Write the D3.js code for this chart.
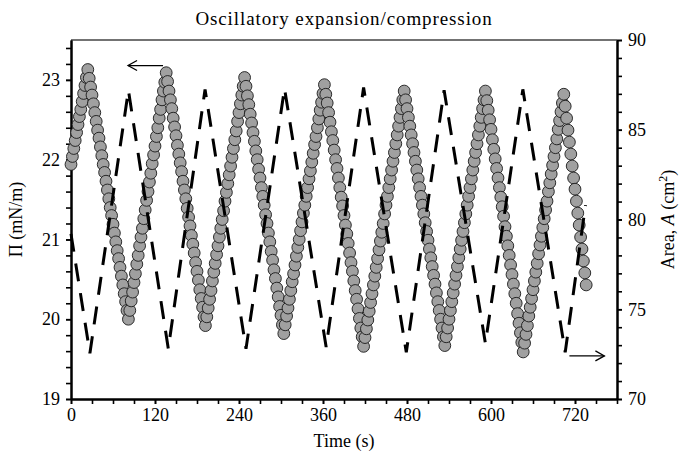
<!DOCTYPE html>
<html>
<head>
<meta charset="utf-8">
<script src="https://cdn.jsdelivr.net/npm/d3@7"></script>
<style>
    body { margin: 0; background: white; }
    text { font-family: 'Liberation Serif', 'Times New Roman', serif; fill: black; }
</style>
</head>
<body>
<script>
// surface pressure, one reading every 2 s from t = 0
const sampleStep = 2
const pressure = [
    21.94, 22.04, 22.14, 22.24, 22.34, 22.44, 22.54, 22.63, 22.73, 22.83, 22.93, 23.03, 23.13,
    23.02, 22.91, 22.81, 22.70, 22.59, 22.48, 22.37, 22.27, 22.16, 22.05, 21.94, 21.84, 21.73, 21.62,
    21.51, 21.40, 21.30, 21.19, 21.08, 20.97, 20.86, 20.76, 20.65, 20.54, 20.43, 20.32, 20.22, 20.11, 20.00,
    20.11, 20.23, 20.34, 20.46, 20.57, 20.69, 20.80, 20.92, 21.03, 21.14, 21.26, 21.37, 21.49, 21.60,
    21.72, 21.83, 21.95, 22.06, 22.17, 22.29, 22.40, 22.52, 22.63, 22.75, 22.86, 22.97, 23.09,
    22.98, 22.86, 22.75, 22.64, 22.52, 22.41, 22.30, 22.18, 22.07, 21.96, 21.85, 21.73, 21.62, 21.51,
    21.39, 21.28, 21.17, 21.05, 20.94, 20.83, 20.71, 20.60, 20.49, 20.37, 20.26, 20.15, 20.03, 19.92,
    20.03, 20.14, 20.25, 20.36, 20.48, 20.59, 20.70, 20.81, 20.92, 21.03, 21.14, 21.25, 21.36, 21.48,
    21.59, 21.70, 21.81, 21.92, 22.03, 22.14, 22.25, 22.36, 22.48, 22.59, 22.70, 22.81, 22.92, 23.03,
    22.92, 22.80, 22.69, 22.57, 22.46, 22.34, 22.23, 22.11, 22.00, 21.88, 21.77, 21.65, 21.54, 21.43,
    21.31, 21.20, 21.08, 20.97, 20.85, 20.74, 20.62, 20.51, 20.39, 20.28, 20.16, 20.05, 19.93, 19.82,
    19.93, 20.04, 20.14, 20.25, 20.36, 20.47, 20.57, 20.68, 20.79, 20.90, 21.00, 21.11, 21.22, 21.33,
    21.43, 21.54, 21.65, 21.76, 21.86, 21.97, 22.08, 22.19, 22.29, 22.40, 22.51, 22.62, 22.72, 22.83, 22.94,
    22.82, 22.71, 22.59, 22.47, 22.35, 22.24, 22.12, 22.00, 21.89, 21.77, 21.65, 21.53, 21.42, 21.30,
    21.18, 21.07, 20.95, 20.83, 20.71, 20.60, 20.48, 20.36, 20.25, 20.13, 20.01, 19.89, 19.78, 19.66,
    19.77, 19.88, 19.99, 20.10, 20.21, 20.32, 20.43, 20.54, 20.65, 20.76, 20.87, 20.98, 21.09, 21.20,
    21.32, 21.43, 21.54, 21.65, 21.76, 21.87, 21.98, 22.09, 22.20, 22.31, 22.42, 22.53, 22.64, 22.75, 22.86,
    22.75, 22.64, 22.53, 22.42, 22.31, 22.20, 22.09, 21.98, 21.87, 21.76, 21.65, 21.54, 21.43, 21.32,
    21.21, 21.10, 20.99, 20.88, 20.77, 20.66, 20.55, 20.44, 20.33, 20.22, 20.11, 20.00, 19.89, 19.78, 19.67,
    19.78, 19.89, 20.00, 20.11, 20.22, 20.33, 20.44, 20.55, 20.66, 20.77, 20.88, 20.99, 21.10, 21.21,
    21.32, 21.43, 21.54, 21.65, 21.76, 21.87, 21.98, 22.09, 22.20, 22.31, 22.42, 22.53, 22.64, 22.75, 22.86,
    22.74, 22.62, 22.50, 22.38, 22.25, 22.13, 22.01, 21.89, 21.77, 21.65, 21.53, 21.41, 21.29, 21.16,
    21.04, 20.92, 20.80, 20.68, 20.56, 20.44, 20.32, 20.20, 20.07, 19.95, 19.83, 19.71, 19.59,
    19.70, 19.81, 19.92, 20.04, 20.15, 20.26, 20.37, 20.48, 20.59, 20.70, 20.82, 20.93, 21.04, 21.15,
    21.26, 21.37, 21.48, 21.60, 21.71, 21.82, 21.93, 22.04, 22.15, 22.26, 22.38, 22.49, 22.60, 22.71, 22.82,
    22.67, 22.52, 22.37, 22.22, 22.07, 21.92, 21.77, 21.63, 21.48, 21.33, 21.18, 21.03, 20.88, 20.73, 20.58, 20.43
]

// trough area, turning points of the barrier motion
const areaTime = [0, 27, 82, 139, 191.5, 250, 305, 364.5, 418, 479, 533, 592, 645.5, 706, 735]
const areaValue = [79.2, 72.55, 87.2, 72.8, 87.25, 72.8, 87.3, 72.9, 87.35, 72.6, 87.2, 73.1, 87.25, 72.6, 80.8]

const timeTicks = [0, 120, 240, 360, 480, 600, 720]
const pressureTicks = [19, 20, 21, 22, 23]
const areaTicks = [70, 75, 80, 85, 90]

const W = 679, H = 456
const margin = { top: 40, right: 62, bottom: 57, left: 71 }
const width = W - margin.left - margin.right
const height = H - margin.top - margin.bottom

const svg = d3.select('body').append('svg')
    .attr('width', W)
    .attr('height', H)

const g = svg.append('g')
    .attr('transform', `translate(${margin.left}, ${margin.top})`)

const x = d3.scaleLinear().domain([0, 780]).range([0, width])
const yP = d3.scaleLinear().domain([19, 23.5]).range([height, 0])
const yA = d3.scaleLinear().domain([70, 90]).range([height, 0])

// top frame line
g.append('line')
    .attr('x1', 0).attr('x2', width)
    .attr('y1', 0).attr('y2', 0)
    .style('stroke', '#444')
    .style('stroke-width', 1.5)

function styleAxis(sel) {
    sel.select('.domain').style('stroke', 'black').style('stroke-width', 2)
    sel.selectAll('.tick line').style('stroke', 'black').style('stroke-width', 1.6)
    sel.selectAll('.tick text')
        .style('font-family', "'Liberation Serif', serif")
        .style('font-size', '18px')
}

const fmt = d3.format('d')

// minor ticks first, then labelled majors on top
g.append('g')
    .attr('transform', `translate(0, ${height})`)
    .call(d3.axisBottom(x).tickValues(d3.range(0, 781, 30)).tickSize(5).tickSizeOuter(0).tickFormat(''))
    .call(styleAxis)
g.append('g')
    .attr('transform', `translate(0, ${height})`)
    .call(d3.axisBottom(x).tickValues(timeTicks).tickFormat(fmt).tickSize(5).tickSizeOuter(0).tickPadding(4))
    .call(styleAxis)

g.append('g')
    .call(d3.axisLeft(yP).tickValues(d3.range(0, 23).map(i => 19 + i * 0.2)).tickSize(5).tickSizeOuter(0).tickFormat(''))
    .call(styleAxis)
g.append('g')
    .call(d3.axisLeft(yP).tickValues(pressureTicks).tickFormat(fmt).tickSize(5).tickSizeOuter(0).tickPadding(6))
    .call(styleAxis)

g.append('g')
    .attr('transform', `translate(${width}, 0)`)
    .call(d3.axisRight(yA).tickValues(d3.range(70, 91, 1)).tickSize(5).tickSizeOuter(0).tickFormat(''))
    .call(styleAxis)
g.append('g')
    .attr('transform', `translate(${width}, 0)`)
    .call(d3.axisRight(yA).tickValues(areaTicks).tickFormat(fmt).tickSize(5).tickSizeOuter(0).tickPadding(6))
    .call(styleAxis)

// surface pressure markers
g.selectAll('.pt')
    .data(pressure)
    .enter().append('circle')
    .attr('class', 'pt')
    .attr('cx', (d, i) => x(i * sampleStep))
    .attr('cy', d => yP(d))
    .attr('r', 5.9)
    .style('fill', '#a0a0a0')
    .style('stroke', '#1a1a1a')
    .style('stroke-width', 0.9)

// area, dashed
const areaLine = d3.line()
    .x((d, i) => x(areaTime[i]))
    .y(d => yA(d))

g.append('path')
    .datum(areaValue)
    .attr('d', areaLine)
    .style('fill', 'none')
    .style('stroke', 'black')
    .style('stroke-width', 3)
    .style('stroke-dasharray', '18,12')

// arrows telling which axis each curve belongs to
function arrow(x1, x2, yy) {
    const dir = Math.sign(x2 - x1)
    g.append('line')
        .attr('x1', x1).attr('x2', x2)
        .attr('y1', yy).attr('y2', yy)
        .style('stroke', 'black').style('stroke-width', 1.3)
    g.append('path')
        .attr('d', `M${x2 - dir * 9},${yy - 5}L${x2},${yy}L${x2 - dir * 9},${yy + 5}`)
        .style('fill', 'none').style('stroke', 'black').style('stroke-width', 1.3)
}
arrow(x(131.5), x(81.5), yP(23.18))
arrow(x(712), x(762), yA(72.4))

// labels
svg.append('text')
    .attr('x', margin.left + width / 2)
    .attr('y', 25)
    .style('text-anchor', 'middle')
    .style('font-size', '19px')
    .style('letter-spacing', '0.9px')
    .text('Oscillatory expansion/compression')

svg.append('text')
    .attr('x', margin.left + width / 2)
    .attr('y', 447)
    .style('text-anchor', 'middle')
    .style('font-size', '18px')
    .text('Time (s)')

svg.append('text')
    .attr('transform', `translate(22, ${margin.top + height / 2}) rotate(-90)`)
    .style('text-anchor', 'middle')
    .style('font-size', '18px')
    .text('Π (mN/m)')

const rightLabel = svg.append('text')
    .attr('transform', `translate(674, ${margin.top + height / 2}) rotate(-90)`)
    .style('text-anchor', 'middle')
    .style('font-size', '18px')
rightLabel.append('tspan').text('Area, ')
rightLabel.append('tspan').style('font-style', 'italic').text('A')
rightLabel.append('tspan').text(' (cm')
rightLabel.append('tspan').attr('dy', -7).style('font-size', '12px').text('2')
rightLabel.append('tspan').attr('dy', 7).text(')')
</script>
</body>
</html>
